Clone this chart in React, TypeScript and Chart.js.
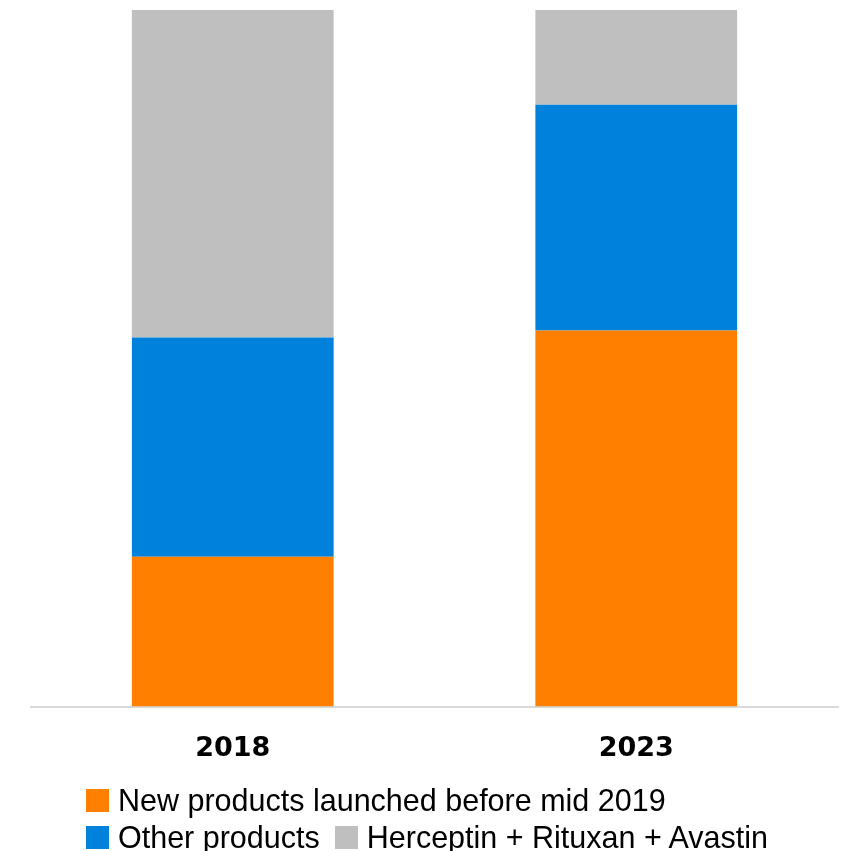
import React, { useEffect, useRef } from "react";
import { Chart, registerables } from "chart.js";

Chart.register(...registerables);

const categories = ["2018", "2023"];
const seriesNames = [
  "New products launched before mid 2019",
  "Other products",
  "Herceptin + Rituxan + Avastin",
];
const newProducts = [21.5, 54.0];
const otherProducts = [31.5, 32.4];
const hra = [47.0, 13.6];
const seriesColors = ["#FF7F00", "#0081DC", "#BFBFBF"];

export default function App() {
  const canvasRef = useRef<HTMLCanvasElement | null>(null);

  useEffect(() => {
    if (!canvasRef.current) return;
    const values = [newProducts, otherProducts, hra];
    const chart = new Chart(canvasRef.current, {
      type: "bar",
      data: {
        labels: categories,
        datasets: seriesNames.map((name, i) => ({
          label: name,
          data: values[i],
          backgroundColor: seriesColors[i],
          borderWidth: 0,
          categoryPercentage: 0.5,
          barPercentage: 1,
        })),
      },
      options: {
        animation: false,
        responsive: false,
        devicePixelRatio: 1,
        layout: { padding: { left: 31, right: 5, top: 10, bottom: 0 } },
        plugins: { legend: { display: false }, tooltip: { enabled: false } },
        scales: {
          x: {
            stacked: true,
            grid: { display: false, drawTicks: false, tickLength: 0 },
            border: { display: true, color: "#D9D9D9", width: 2 },
            ticks: {
              color: "#000000",
              padding: 26,
              font: { family: "DejaVu Sans", weight: "bold", size: 27 },
            },
          },
          y: {
            stacked: true,
            display: false,
            min: 0,
            max: 100,
          },
        },
      },
    });
    return () => chart.destroy();
  }, []);

  return (
    <div
      style={{
        position: "fixed",
        left: 0,
        top: 0,
        width: 843,
        height: 851,
        background: "#FFFFFF",
        overflow: "hidden",
      }}
    >
      <canvas
        ref={canvasRef}
        width={843}
        height={791}
        style={{ position: "absolute", left: 0, top: 0, width: 843, height: 791 }}
      />
      <div
        style={{
          position: "absolute",
          left: 86,
          top: 782,
          width: 740,
          display: "flex",
          flexWrap: "wrap",
          columnGap: 15,
          fontFamily: "'Liberation Sans', Arial, sans-serif",
          fontSize: 30.5,
          color: "#000000",
        }}
      >
        {seriesNames.map((name, i) => (
          <div
            key={name}
            style={{ display: "flex", alignItems: "center", height: 37, gap: 9, whiteSpace: "nowrap" }}
          >
            <div style={{ width: 23, height: 23, background: seriesColors[i] }} />
            <span style={{ lineHeight: "37px" }}>{name}</span>
          </div>
        ))}
      </div>
    </div>
  );
}
